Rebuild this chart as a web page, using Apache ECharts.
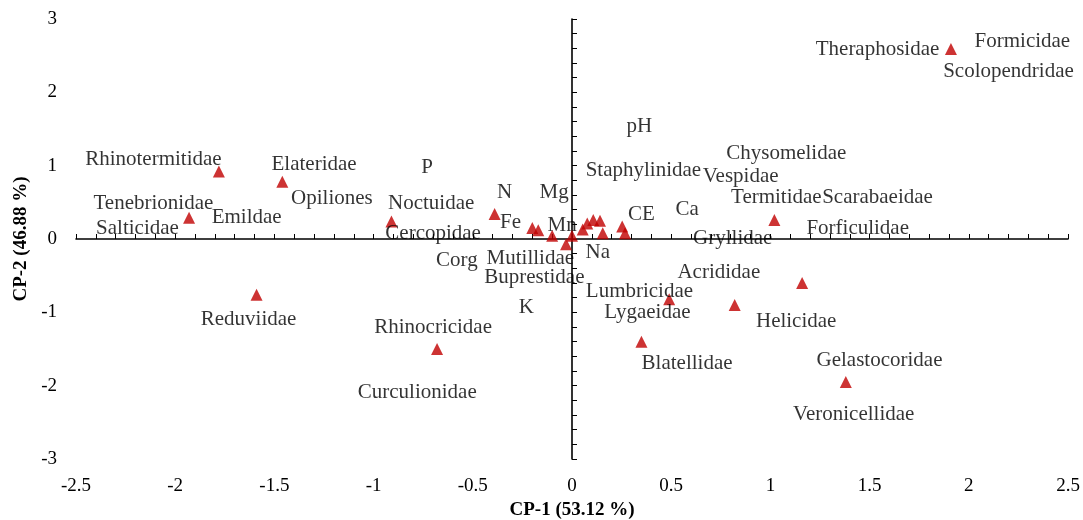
<!DOCTYPE html>
<html>
<head>
<meta charset="utf-8">
<script src="https://cdn.jsdelivr.net/npm/echarts@6/dist/echarts.min.js"></script>
<style>
  html, body { margin: 0; background: #fff; }
  #chart { width: 1083px; height: 520px; }
</style>
</head>
<body>
<div id="chart"></div>
<script>
// family scores (triangles)
const pointX = [1.91, -1.78, -1.46, -1.93, -0.91, -0.39, -1.59, -0.68, 1.02, 1.16, 0.49, 0.82, 0.35, 1.38,
  -0.20, -0.17, -0.10, -0.03, 0.0, 0.054, 0.077, 0.107, 0.141, 0.155, 0.253, 0.267]
const pointY = [2.59, 0.92, 0.78, 0.29, 0.24, 0.34, -0.76, -1.50, 0.26, -0.60, -0.82, -0.90, -1.40, -1.95,
  0.15, 0.12, 0.045, -0.07, 0.045, 0.13, 0.21, 0.26, 0.25, 0.08, 0.17, 0.08]

// text labels (families and soil variables), anchored at their centre
const labelNames = ['Formicidae', 'Theraphosidae', 'Scolopendridae', 'Rhinotermitidae', 'Elateridae', 'Opiliones',
  'Tenebrionidae', 'Emildae', 'Salticidae', 'P', 'Noctuidae', 'Cercopidae', 'N', 'Mg', 'Fe', 'Mn', 'Corg',
  'Mutillidae', 'Buprestidae', 'K', 'Na', 'Staphylinidae', 'pH', 'CE', 'Ca', 'Chysomelidae', 'Vespidae',
  'Termitidae', 'Scarabaeidae', 'Gryllidae', 'Forficulidae', 'Acrididae', 'Lumbricidae', 'Lygaeidae',
  'Helicidae', 'Blatellidae', 'Gelastocoridae', 'Veronicellidae', 'Reduviidae', 'Rhinocricidae', 'Curculionidae']
const labelX = [2.27, 1.54, 2.20, -2.11, -1.30, -1.21, -2.11, -1.64, -2.19, -0.73, -0.71, -0.70, -0.34, -0.09,
  -0.31, -0.05, -0.58, -0.21, -0.19, -0.23, 0.13, 0.36, 0.34, 0.35, 0.58, 1.08, 0.85, 1.03, 1.54, 0.81, 1.44,
  0.74, 0.34, 0.38, 1.13, 0.58, 1.55, 1.42, -1.63, -0.70, -0.78]
const labelY = [2.70, 2.58, 2.28, 1.08, 1.01, 0.55, 0.49, 0.29, 0.14, 0.98, 0.49, 0.07, 0.63, 0.64, 0.22, 0.19,
  -0.29, -0.26, -0.53, -0.93, -0.19, 0.94, 1.53, 0.34, 0.40, 1.17, 0.85, 0.56, 0.56, 0.01, 0.15, -0.45, -0.71,
  -1.00, -1.12, -1.70, -1.65, -2.39, -1.10, -1.21, -2.09]

const xTitle = 'CP-1 (53.12 %)'
const yTitle = 'CP-2 (46.88 %)'

const font = 'Liberation Serif'
const chart = echarts.init(document.getElementById('chart'))

const hidden = { show: false }
const lineAxis = {
  type: 'value', min: -2.5, max: 2.5, interval: 0.5,
  axisLine: { show: true, onZero: true, lineStyle: { color: '#000', width: 1.6 } },
  axisTick: { show: true, inside: true, length: 5, lineStyle: { color: '#000' } },
  minorTick: { show: true, splitNumber: 5, length: 5, lineStyle: { color: '#000' } },
  axisLabel: hidden, splitLine: hidden
}

chart.setOption({
  animation: false,
  grid: { left: 76, right: 15, top: 19, bottom: 61, outerBoundsMode: 'none' },
  xAxis: [
    {
      type: 'value', min: -2.5, max: 2.5, interval: 0.5, position: 'bottom',
      axisLine: { show: false, onZero: false }, axisTick: hidden, splitLine: hidden,
      axisLabel: { color: '#000', fontFamily: font, fontSize: 19, margin: 18 },
      name: xTitle, nameLocation: 'middle', nameGap: 40,
      nameTextStyle: { color: '#000', fontFamily: font, fontSize: 19, fontWeight: 'bold' }
    },
    Object.assign({}, lineAxis, { position: 'bottom' })
  ],
  yAxis: [
    {
      type: 'value', min: -3, max: 3, interval: 1, position: 'left',
      axisLine: { show: false, onZero: false }, axisTick: hidden, splitLine: hidden,
      axisLabel: { color: '#000', fontFamily: font, fontSize: 19, margin: 19, padding: [6, 0, 0, 0] },
      name: yTitle, nameLocation: 'middle', nameGap: 42, nameRotate: 90,
      nameTextStyle: { color: '#000', fontFamily: font, fontSize: 19, fontWeight: 'bold' }
    },
    Object.assign({}, lineAxis, { min: -3, max: 3, interval: 1, position: 'left' })
  ],
  series: [
    {
      type: 'scatter', xAxisIndex: 0, yAxisIndex: 0,
      symbol: 'triangle', symbolSize: 12,
      itemStyle: { color: '#C00000' },
      data: pointX.map((x, i) => [x, pointY[i]]),
      z: 3
    },
    {
      type: 'scatter', xAxisIndex: 0, yAxisIndex: 0,
      symbolSize: 0, silent: true,
      label: {
        show: true, position: 'inside', formatter: (p) => p.name,
        color: '#000', fontFamily: font, fontSize: 21
      },
      data: labelNames.map((n, i) => ({ name: n, value: [labelX[i], labelY[i]] })),
      z: 4
    }
  ]
})
</script>
</body>
</html>
